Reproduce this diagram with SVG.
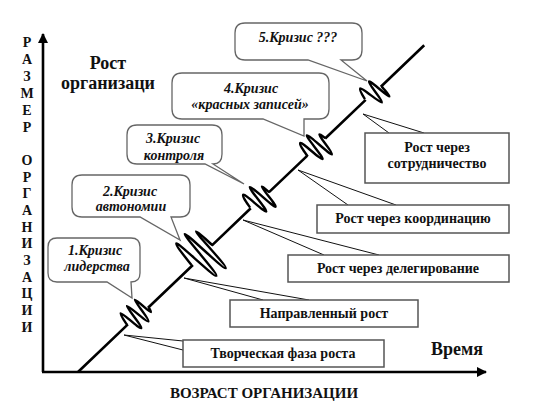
<svg xmlns="http://www.w3.org/2000/svg" width="556" height="405" viewBox="0 0 556 405">
<defs>
<style>
text{font-family:"Liberation Serif","Times New Roman",Tinos,"DejaVu Serif","Noto Serif",serif;font-weight:bold;fill:#111;}
.ci{font-style:italic;font-size:14px;text-anchor:middle;}
.gr{font-size:14px;text-anchor:middle;}
.vl{font-size:14px;text-anchor:middle;}
.bub{fill:#fff;stroke:#666;stroke-width:1.3;}
.box{fill:#fff;stroke:#555;stroke-width:1.5;}
.tail{fill:none;stroke:#111;stroke-width:1;}
.ax{stroke:#000;stroke-width:2.6;fill:none;}
.dl{stroke:#000;stroke-width:2.6;fill:none;stroke-linecap:butt;}
.sq{stroke:#000;stroke-width:2.4;fill:none;stroke-linejoin:round;}
</style>
<marker id="ah" viewBox="0 0 10 10" refX="9" refY="5" markerWidth="4" markerHeight="4" orient="auto" markerUnits="strokeWidth">
<path d="M0,0 L10,5 L0,10 Z" fill="#000"/>
</marker>
</defs>
<rect width="556" height="405" fill="#fff"/>

<g id="axes">
<line class="ax" x1="43" y1="372" x2="43" y2="34" marker-end="url(#ah)"/>
<line class="ax" x1="42" y1="372" x2="486" y2="372" marker-end="url(#ah)"/>
</g>

<g id="y-label">
<text class="vl" x="27" y="47">Р</text>
<text class="vl" x="27" y="64">А</text>
<text class="vl" x="27" y="81">З</text>
<text class="vl" x="27" y="98">М</text>
<text class="vl" x="27" y="115">Е</text>
<text class="vl" x="27" y="132">Р</text>
<text class="vl" x="27" y="165">О</text>
<text class="vl" x="27" y="182">Р</text>
<text class="vl" x="27" y="198">Г</text>
<text class="vl" x="27" y="215">А</text>
<text class="vl" x="27" y="232">Н</text>
<text class="vl" x="27" y="248">И</text>
<text class="vl" x="27" y="265">З</text>
<text class="vl" x="27" y="282">А</text>
<text class="vl" x="27" y="298">Ц</text>
<text class="vl" x="27" y="315">И</text>
<text class="vl" x="27" y="332">И</text>
</g>

<g id="growth-label">
<text x="108" y="69" font-size="18" text-anchor="middle">Рост</text>
<text x="108" y="89" font-size="18" text-anchor="middle">организаци</text>
</g>

<g id="x-label">
<text x="457" y="355" font-size="18" text-anchor="middle">Время</text>
<text x="264" y="398" font-size="15" text-anchor="middle">ВОЗРАСТ ОРГАНИЗАЦИИ</text>
</g>

<g id="connectors">
<polyline class="tail" points="183,341 124,335 183,350"/>
<polyline class="tail" points="263,300 184,278 309,300"/>
<polyline class="tail" points="324,255 243,220 379,255"/>
<polyline class="tail" points="348,205 298,170 396,205"/>
<polyline class="tail" points="389,133 363,114 424,133"/>
</g>

<g id="growth-line" transform="translate(78,372) rotate(-43.7)">
<path class="dl" d="M0,0 H69 M95,2 H157 M184,1 H238 M262,2 H315 M340,2 H396 M416,3 H476"/>
<path class="sq" d="M68,0 C69,-6 70,-13 71.5,-13 C73,-13 74,12 76,12 C78,12 79.5,-14 81,-14 C82.5,-14 84,12 86,12 C88,12 89.5,-13 91,-13 C92.5,-13 93,7 94,7 C95,7 95.5,2 96,2"/>
<path class="sq" d="M156,1 C157,-10 158,-25 160,-25 C162,-25 164,26 166.5,26 C169,26 170.5,-26 172.5,-26 C174.5,-26 176,27 178.5,27 C181,27 181,-20 182.5,-20 C184,-20 184,-2 185,1"/>
<path class="sq" d="M238,0 C239,-6 240,-14 242,-14 C244,-14 245,14 247,14 C249,14 250,-15 252,-15 C254,-15 255,17 257,17 C259,17 259.5,-7 261,-7 C262,-7 262,1 262.5,2"/>
<path class="sq" d="M315,3 C316,-4 317,-12 319,-12 C321,-12 322,15 324,15 C326,15 327,-13 329,-13 C331,-13 332,18 334,18 C336,18 337,-5 338.5,-5 C339.5,-5 340,1 340.5,2"/>
<path class="sq" d="M396,1 C397,-4 398,-10 400,-10 C402,-10 404,15 406,15 C408,15 409,-9 411,-9 C413,-9 414,16 415.5,16 C416.5,16 416.5,5 417,3"/>
</g>

<g id="crisis1">
<path class="bub" d="M57,238 H131 Q140,238 140,247 V273 Q140,282 131,282 L132,298 L107,282 H57 Q48,282 48,273 V247 Q48,238 57,238 Z"/>
<text class="ci" x="95" y="255">1.Кризис</text>
<text class="ci" x="97" y="271">лидерства</text>
</g>
<g id="crisis2">
<path class="bub" d="M82,175 H180 Q190,175 190,185 V207 Q190,217 180,217 H171 L180,240 L140,217 H82 Q72,217 72,207 V185 Q72,175 82,175 Z"/>
<text class="ci" x="130" y="196">2.Кризис</text>
<text class="ci" x="131" y="211">автономии</text>
</g>
<g id="crisis3">
<path class="bub" d="M137,125 H212 Q222,125 222,135 V154 Q222,164 213,164 L244,184 L205,164 H137 Q127,164 127,154 V135 Q127,125 137,125 Z"/>
<text class="ci" x="173" y="143">3.Кризис</text>
<text class="ci" x="174" y="160">контроля</text>
</g>
<g id="crisis4">
<path class="bub" d="M182,73 H319 Q329,73 329,83 V109 Q329,119 319,119 H304 L304,136 L263,119 H182 Q172,119 172,109 V83 Q172,73 182,73 Z"/>
<text class="ci" x="251" y="93">4.Кризис</text>
<text class="ci" x="250" y="109">«красных записей»</text>
</g>
<g id="crisis5">
<path class="bub" d="M245,23 H352 Q362,23 362,33 V50 Q362,60 352,60 H341 L367,81 L308,60 H245 Q235,60 235,50 V33 Q235,23 245,23 Z"/>
<text class="ci" x="298" y="42">5.Кризис ???</text>
</g>

<g id="phase1">
<rect class="box" x="183" y="340" width="201" height="27"/>
<text class="gr" x="283" y="358">Творческая фаза роста</text>
</g>
<g id="phase2">
<rect class="box" x="230" y="300" width="188" height="27"/>
<text class="gr" x="324" y="318">Направленный рост</text>
</g>
<g id="phase3">
<rect class="box" x="288" y="255" width="221" height="27"/>
<text class="gr" x="398" y="273">Рост через делегирование</text>
</g>
<g id="phase4">
<rect class="box" x="317" y="205" width="192" height="28"/>
<text class="gr" x="413" y="223">Рост через координацию</text>
</g>
<g id="phase5">
<rect class="box" x="365" y="133" width="144" height="50"/>
<text class="gr" x="437" y="152">Рост через</text>
<text class="gr" x="437" y="168">сотрудничество</text>
</g>
</svg>
